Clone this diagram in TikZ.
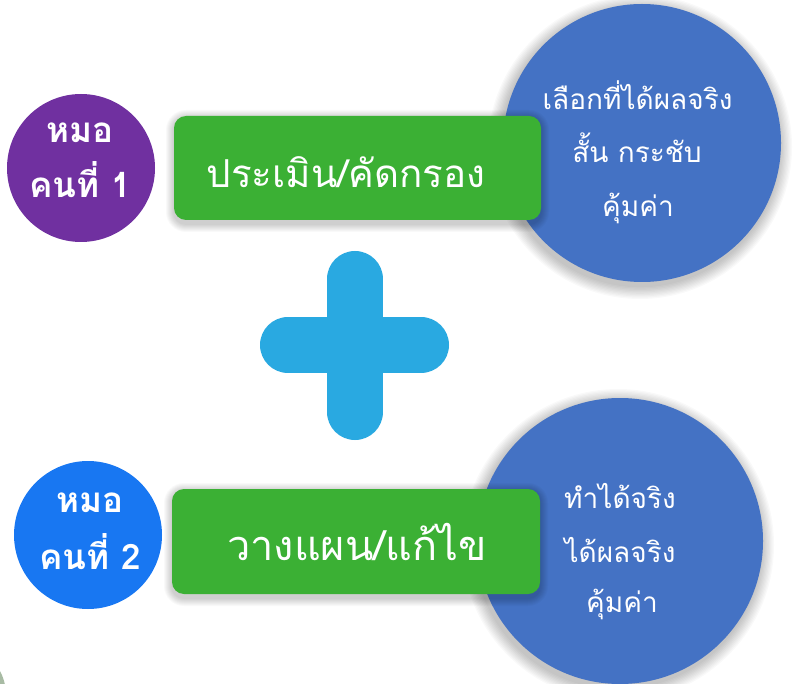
\documentclass[tikz,border=0pt]{standalone}
\usepackage{fontspec}
\newfontfamily\thai[Script=Thai]{Loma}
\definecolor{purp}{HTML}{7030A0}
\definecolor{grn}{HTML}{3BB034}
\definecolor{blu}{HTML}{4472C4}
\definecolor{brightblue}{HTML}{1877F2}
\definecolor{plusc}{HTML}{29A9E1}
\definecolor{stray}{HTML}{A8BBA4}
\tikzset{
  bigcirc/.style={circle, fill=blu, minimum size=#1, inner sep=0pt},
  doccirc/.style={circle, fill=#1, minimum size=148pt, inner sep=0pt},
  greenbox/.style={rectangle, rounded corners=12pt, fill=grn, minimum width=367pt, minimum height=104pt, inner sep=0pt},
  txtline/.style={inner sep=0pt, text height=0pt, text depth=0pt, text=white, anchor=center},
  boxtext/.style={txtline, font=\thai\fontsize{#1}{44}\selectfont},
  circtext/.style={txtline, font=\thai\fontsize{28}{32}\selectfont},
  doctext/.style={txtline, font=\thai\bfseries\fontsize{35}{40}\selectfont},
}
\begin{document}
\begin{tikzpicture}[x=1pt,y=-1pt]
\useasboundingbox (0,0) rectangle (794,684);
\fill[white] (0,0) rectangle (794,684);
% stray shape bottom-left
\fill[stray] (-45,695) circle (51);
% shadows of the right circles
\foreach \k in {1,...,10}{
  \fill[black,opacity=0.022] (640,147) circle ({139+1.3*\k});
  \fill[black,opacity=0.022] (618,545) circle ({143+1.3*\k});
}
\node[bigcirc=278pt] (c1) at (642,143) {};
\node[bigcirc=286pt] (c2) at (620,541) {};
% shadows of the green boxes
\foreach \k in {1,...,8}{
  \fill[black,opacity=0.025,rounded corners={12+\k}] ({174-\k},{118-\k}) rectangle ({541+\k},{224+\k});
  \fill[black,opacity=0.025,rounded corners={12+\k}] ({172-\k},{491-\k}) rectangle ({540+\k},{598+\k});
}
\node[greenbox] (r1) at (357.5,168) {};
\node[greenbox, minimum width=368pt, minimum height=105pt] (r2) at (356,541.5) {};
\node[boxtext=38.5] (r1t) at (346,188) {ประเมิน/คัดกรอง};
\node[boxtext=41.5] (r2t) at (357,560) {วางแผน/แก้ไข};
% circle texts
\node[circtext] (c1a) at (637.5,110) {เลือกที่ได้ผลจริง};
\node[circtext] (c1b) at (637,163) {สั้น กระชับ};
\node[circtext] (c1c) at (638,217) {คุ้มค่า};
\node[circtext] (c2a) at (620,508) {ทำได้จริง};
\node[circtext] (c2b) at (620,562) {ได้ผลจริง};
\node[circtext] (c2c) at (622,612) {คุ้มค่า};
% doctor circles
\node[doccirc=purp] (d1) at (81,168) {};
\node[doccirc=brightblue] (d2) at (88,535) {};
\node[doctext] (d1a) at (80,143) {หมอ};
\node[doctext] (d1b) at (80,198) {คนที่ 1};
\node[doctext] (d2a) at (90,512) {หมอ};
\node[doctext] (d2b) at (90,569) {คนที่ 2};
% plus sign
\draw[plusc, line width=56pt, line cap=round] (355,279) -- (355,412);
\draw[plusc, line width=56pt, line cap=round] (288,345) -- (421,345);
\end{tikzpicture}
\end{document}
